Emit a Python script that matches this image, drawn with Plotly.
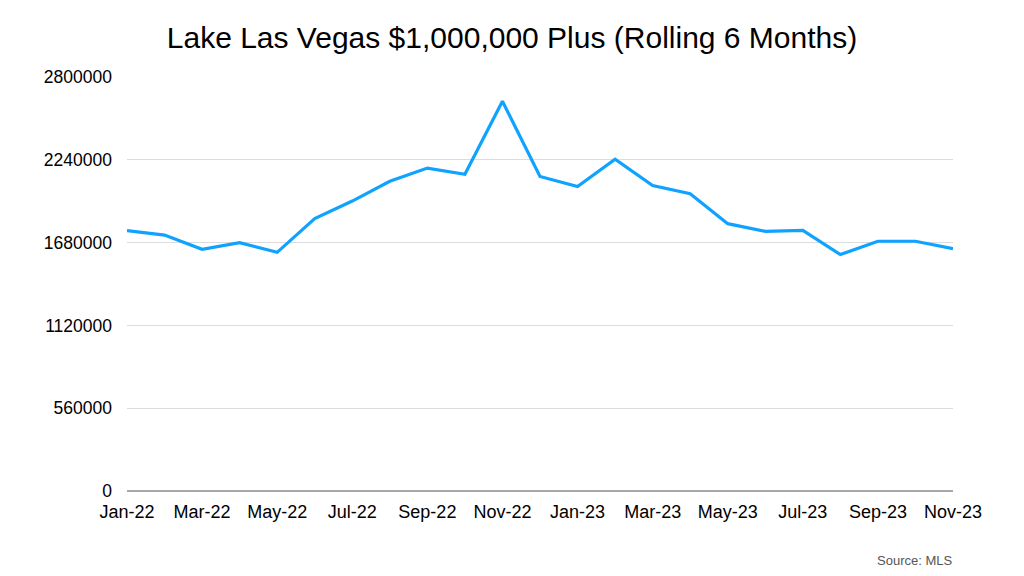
import plotly.graph_objects as go

months = ["Jan-22", "Feb-22", "Mar-22", "Apr-22", "May-22", "Jun-22", "Jul-22", "Aug-22",
          "Sep-22", "Oct-22", "Nov-22", "Dec-22", "Jan-23", "Feb-23", "Mar-23", "Apr-23",
          "May-23", "Jun-23", "Jul-23", "Aug-23", "Sep-23", "Oct-23", "Nov-23"]
values = [1761000, 1731000, 1635000, 1680000, 1614000, 1842000, 1961000, 2095000,
          2184000, 2142000, 2636000, 2127000, 2059000, 2244000, 2066000, 2010000,
          1808000, 1756000, 1763000, 1599000, 1689000, 1689000, 1639000]
tick_labels = months[::2]
y_ticks = [0, 560000, 1120000, 1680000, 2240000, 2800000]

fig = go.Figure()
fig.add_trace(go.Scatter(x=months, y=values, mode="lines",
                         line=dict(color="#0FA3FF", width=3.2),
                         hoverinfo="x+y"))

fig.update_layout(
    width=1024, height=576,
    paper_bgcolor="white", plot_bgcolor="white",
    margin=dict(l=119, r=79, t=69, b=93),
    showlegend=False,
    font=dict(family="Liberation Sans, Arial, sans-serif", color="black"),
    title=dict(text="Lake Las Vegas $1,000,000 Plus (Rolling 6 Months)",
               x=0.4922, xanchor="center", y=0.948, yanchor="middle",
               font=dict(size=30, color="black")),
    xaxis=dict(type="category", categoryorder="array", categoryarray=months,
               tickmode="array", tickvals=tick_labels, ticktext=tick_labels,
               showgrid=False, showline=False, zeroline=False,
               tickfont=dict(size=18), ticks="", ticklabelstandoff=8,
               range=[0, len(months) - 1]),
    yaxis=dict(range=[0, 2800000], tickmode="array", tickvals=y_ticks,
               ticktext=[str(v) for v in y_ticks],
               showgrid=True, gridcolor="#DCDCDC", gridwidth=1,
               zeroline=True, zerolinecolor="#A8A8A8", zerolinewidth=1.5,
               showline=False, ticks="", tickfont=dict(size=17.5), ticklabelstandoff=14),
    annotations=[dict(text="Source: MLS", xref="paper", yref="paper",
                      x=1.0012, y=-0.168, xanchor="right", yanchor="middle",
                      showarrow=False, font=dict(size=13, color="#555555"))],
)

fig.write_html("out.html")
